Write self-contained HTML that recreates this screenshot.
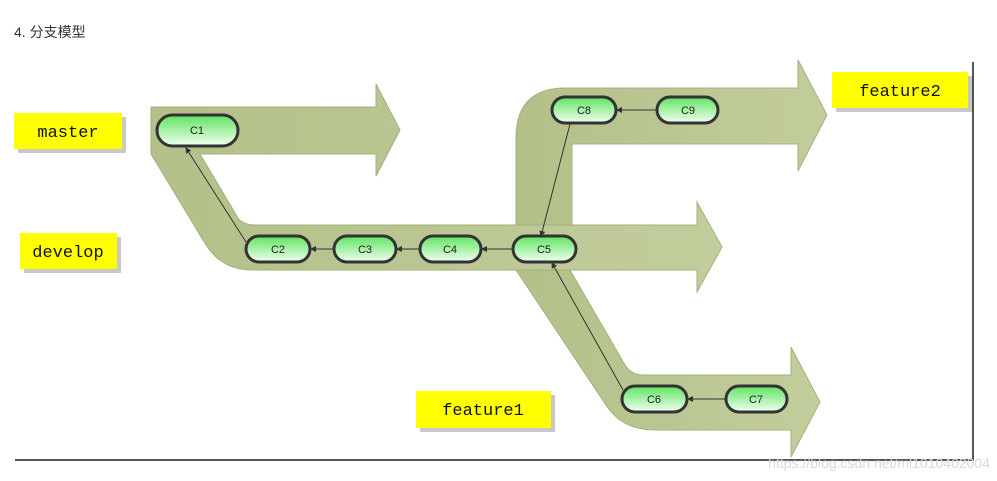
<!DOCTYPE html>
<html><head><meta charset="utf-8"><style>
html,body{margin:0;padding:0;background:#fff;}
body{width:997px;height:481px;overflow:hidden;position:relative;font-family:"Liberation Sans","Noto Sans CJK SC",sans-serif;}
.t{position:absolute;left:14px;top:22px;font-size:14px;color:#333;}
</style></head><body>
<div class="t">4. 分支模型</div>
<svg width="997" height="481" style="position:absolute;left:0;top:0" xmlns="http://www.w3.org/2000/svg">
<defs>
<linearGradient id="ng" x1="0" y1="0" x2="0" y2="1">
<stop offset="0" stop-color="#5fe35f"/><stop offset="1" stop-color="#f2fff2"/></linearGradient>
<linearGradient id="bg" x1="0" y1="0" x2="1" y2="0">
<stop offset="0" stop-color="#b3c089"/><stop offset="1" stop-color="#c2cd9c"/></linearGradient>
<marker id="ar" markerWidth="6" markerHeight="6" refX="5" refY="3" orient="auto"><path d="M0,0 L6,3 L0,6 Z" fill="#333"/></marker>
</defs>
<!-- frame -->
<line x1="973" y1="62" x2="973" y2="461" stroke="#555" stroke-width="2"/>
<line x1="15" y1="460" x2="974" y2="460" stroke="#555" stroke-width="2"/>
<!-- feature2 band -->
<path d="M516,225 L516,138 Q516,88 566,88 L798,88 L798,60 L827,115 L798,171 L798,144 L572,144 L572,225 Z" fill="url(#bg)" stroke="#a4b07c" stroke-width="1"/>
<!-- feature1 band -->
<path d="M516,270 L570,270 L625,365 Q631,375 645,375 L791,375 L791,347 L820,402 L791,457 L791,430 L655,430 Q622,430 606,405 Z" fill="url(#bg)" stroke="#a4b07c" stroke-width="1"/>
<!-- master + develop band -->
<path d="M151,107 L376,107 L376,84 L400,130 L376,176 L376,154 L200,154 L238,218 Q243,225 256,225 L697,225 L697,202 L722,247 L697,292 L697,270 L252,270 Q222,270 206,245 L151,154 Z" fill="url(#bg)" stroke="#a4b07c" stroke-width="1"/>
<!-- connectors -->
<g stroke="#333" stroke-width="1" fill="none" marker-end="url(#ar)">
<line x1="246" y1="242" x2="186" y2="148"/>
<line x1="333" y1="249" x2="311" y2="249"/>
<line x1="419" y1="249" x2="397" y2="249"/>
<line x1="512" y1="249" x2="482" y2="249"/>
<line x1="570" y1="124" x2="541" y2="236"/>
<line x1="656" y1="110" x2="617" y2="110"/>
<line x1="623" y1="390" x2="552" y2="263"/>
<line x1="725" y1="399" x2="688" y2="399"/>
</g>
<!-- nodes -->
<g stroke="#333" stroke-width="3" fill="url(#ng)">
<rect x="157" y="115" width="81" height="31" rx="15.5"/>
<rect x="246" y="236" width="64" height="26" rx="13"/>
<rect x="334" y="236" width="62" height="26" rx="13"/>
<rect x="420" y="236" width="61" height="26" rx="13"/>
<rect x="513" y="236" width="63" height="26" rx="13"/>
<rect x="552" y="97" width="64" height="26" rx="13"/>
<rect x="657" y="97" width="61" height="26" rx="13"/>
<rect x="622" y="386" width="65" height="26" rx="13"/>
<rect x="726" y="386" width="61" height="26" rx="13"/>
</g>
<g font-family="Liberation Sans, sans-serif" font-size="11" fill="#222" text-anchor="middle">
<text x="197" y="134">C1</text>
<text x="278" y="253">C2</text>
<text x="365" y="253">C3</text>
<text x="450" y="253">C4</text>
<text x="544" y="253">C5</text>
<text x="584" y="114">C8</text>
<text x="688" y="114">C9</text>
<text x="654" y="403">C6</text>
<text x="756" y="403">C7</text>
</g>
<!-- labels -->
<g fill="#c8c8c8">
<rect x="18" y="117" width="108" height="36"/>
<rect x="24" y="237" width="97" height="36"/>
<rect x="420" y="395" width="135" height="37"/>
<rect x="836" y="76" width="136" height="36"/>
</g>
<g fill="#ffff00">
<rect x="14" y="113" width="108" height="36"/>
<rect x="20" y="233" width="97" height="36"/>
<rect x="416" y="391" width="135" height="37"/>
<rect x="832" y="72" width="136" height="36"/>
</g>
<g font-family="Liberation Mono, monospace" font-size="17" fill="#111" text-anchor="middle">
<text x="68" y="137">master</text>
<text x="68" y="257">develop</text>
<text x="483" y="415">feature1</text>
<text x="900" y="96">feature2</text>
</g>
<text x="990" y="468" text-anchor="end" font-family="Liberation Sans, sans-serif" font-size="14" fill="#d8d8d8">https://blog.csdn.net/ml1010402004</text>
</svg>
</body></html>
